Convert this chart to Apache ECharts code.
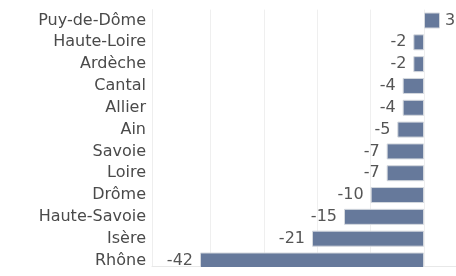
<!DOCTYPE html>
<html><head><meta charset="utf-8">
<script src="https://cdn.jsdelivr.net/npm/echarts@6/dist/echarts.min.js"></script>
<style>html,body{margin:0;padding:0;background:#fff}#c{width:456px;height:276px}</style>
</head><body><div id="c"></div>
<script>
var categories = ["Puy-de-Dôme","Haute-Loire","Ardèche","Cantal","Allier","Ain","Savoie","Loire","Drôme","Haute-Savoie","Isère","Rhône"];
var values = [3,-2,-2,-4,-4,-5,-7,-7,-10,-15,-21,-42];
var gridValues = [-40,-30,-20,-10,0];

var chart = echarts.init(document.getElementById('c'));
var data = values.map(function(v){
  return {value: v, label: {position: v < 0 ? 'left' : 'right', distance: v < 0 ? 7 : 5}};
});
chart.setOption({
  animation: false,
  grid: {left: 152, right: 0, top: 9.6, bottom: 4.6, containLabel: false},
  xAxis: {
    type: 'value', min: -51, max: 6,
    axisLabel: {show: false}, axisTick: {show: false},
    splitLine: {show: false},
    axisLine: {show: true, lineStyle: {color: '#e8e8e8', width: 1}},
    offset: -5
  },
  yAxis: {
    type: 'category', data: categories, inverse: true,
    axisTick: {show: false},
    axisLine: {show: true, onZero: false, lineStyle: {color: '#eeeeee', width: 1}},
    axisLabel: {color: '#4a4a4a', fontSize: 16, fontFamily: 'DejaVu Sans', margin: 6}
  },
  series: [{
    type: 'bar', data: data, barWidth: 16,
    itemStyle: {color: '#66799b', borderColor: '#d4d8de', borderWidth: 1},
    label: {show: true, color: '#555', fontSize: 16, fontFamily: 'DejaVu Sans'},
    markLine: {
      silent: true, symbol: 'none', label: {show: false},
      lineStyle: {color: '#efefef', type: 'solid', width: 1},
      data: gridValues.map(function(g){ return {xAxis: g}; }),
      z: 0
    }
  }],
  graphic: [{type: 'rect', shape: {x: 152, y: 267, width: 304, height: 9}, style: {fill: '#fff'}, z: 100}]
});
</script></body></html>
